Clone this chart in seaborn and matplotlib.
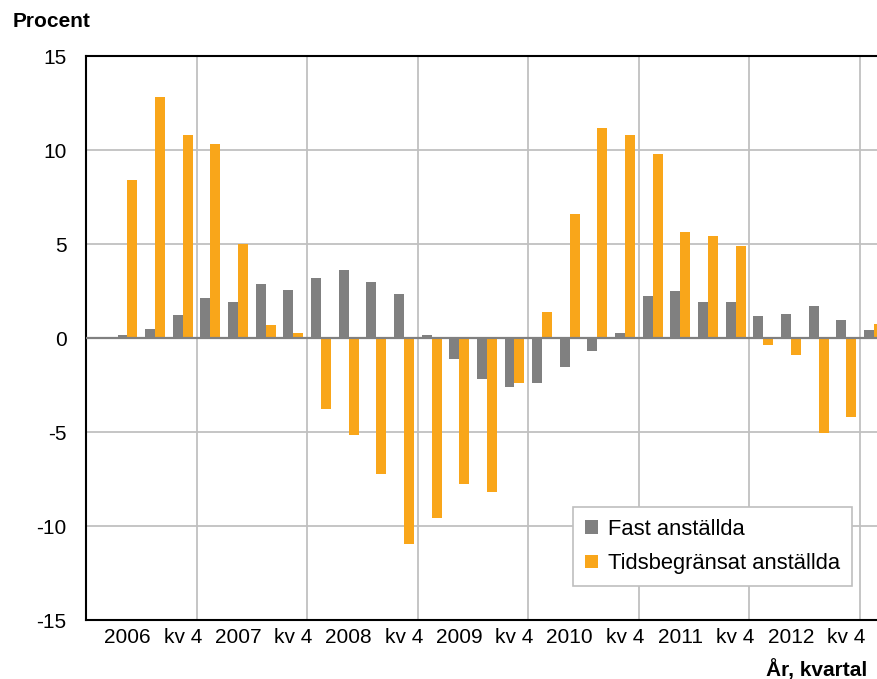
import numpy as np
import pandas as pd
import seaborn as sns
import matplotlib.pyplot as plt

# quarters 2006 kv 1 .. 2013 kv 1
kvartal = [f"{y} kv {q}" for y in range(2006, 2013) for q in range(1, 5)] + ["2013 kv 1"]

fast = [np.nan, 0.14, 0.46, 1.21, 2.15, 1.93, 2.89, 2.57, 3.21, 3.64, 3.0, 2.36,
        0.14, -1.12, -2.16, -2.59, -2.37, -1.54, -0.69, 0.25, 2.25, 2.48, 1.93, 1.93,
        1.19, 1.3, 1.72, 0.98, 0.45]
tids = [np.nan, 8.39, 12.84, 10.82, 10.30, 5.02, 0.68, 0.25, -3.76, -5.14, -7.24, -10.96,
        -9.57, -7.78, -8.21, -2.37, 1.40, 6.6, 11.15, 10.82, 9.77, 5.64, 5.43, 4.9,
        -0.37, -0.9, -5.05, -4.18, 0.77]

serier = ["Fast anställda", "Tidsbegränsat anställda"]
farger = ["#808080", "#F9A61A"]

tick_labels = []
for y in range(2006, 2013):
    tick_labels += [str(y), "kv 4"]

df = pd.DataFrame({
    "kvartal": kvartal * 2,
    "serie": [serier[0]] * len(kvartal) + [serier[1]] * len(kvartal),
    "varde": fast + tids,
})

sns.set_style("white")
plt.rcParams['font.family'] = ['Liberation Sans', 'DejaVu Sans']
plt.rcParams['axes.unicode_minus'] = False
plt.rcParams['text.color'] = 'black'
plt.rcParams['xtick.color'] = 'black'
plt.rcParams['ytick.color'] = 'black'

fig = plt.figure(figsize=(8.78, 6.79), dpi=100)
ax = fig.add_axes([86/878, 1 - 620/679, 792/878, 564/679])

sns.barplot(data=df, x="kvartal", y="varde", hue="serie", order=kvartal,
            hue_order=serier, palette=farger, width=0.72, saturation=1,
            linewidth=0, errorbar=None, ax=ax)

ax.set_xlim(-0.5, 28.15)
ax.set_ylim(-15, 15)
ax.set_yticks(range(-15, 16, 5))
ax.set_xticks([1 + 2*i for i in range(len(tick_labels))], tick_labels)
ax.set_xticks([3.5 + 4*i for i in range(7)], minor=True)
ax.tick_params(axis='both', which='both', length=0, labelsize=15, labelcolor='black')
ax.tick_params(axis='y', pad=14)
ax.tick_params(axis='x', pad=6)
ax.grid(True, axis='y', color='#C0C0C0', lw=1.3)
ax.grid(True, axis='x', which='minor', color='#C0C0C0', lw=1.3)
ax.grid(False, axis='x', which='major')
ax.set_axisbelow(True)
ax.axhline(0, color='#808080', lw=1.6, zorder=3)

ax.set_xlabel("")
ax.set_ylabel("")
for s in ['top', 'left', 'bottom']:
    ax.spines[s].set_color('black')
    ax.spines[s].set_linewidth(1.5)
ax.spines['right'].set_visible(False)

handles, labels = ax.get_legend_handles_labels()
leg = ax.legend(handles, labels, loc='upper left',
                bbox_to_anchor=((573 - 86)/792, (620 - 507)/564),
                borderaxespad=0, fontsize=15.8, frameon=True, fancybox=False,
                edgecolor='#BFBFBF', framealpha=1, handlelength=0.6,
                handleheight=0.6, handletextpad=0.45, labelspacing=0.6,
                borderpad=0.55)
leg.get_frame().set_linewidth(1.2)

fig.text(13/878, 1 - 27/679, "Procent", fontsize=15, fontweight='bold', ha='left', va='baseline')
fig.text(867/878, 1 - 676/679, "År, kvartal", fontsize=15, fontweight='bold', ha='right', va='baseline')

fig.savefig("out.png", dpi=100)
